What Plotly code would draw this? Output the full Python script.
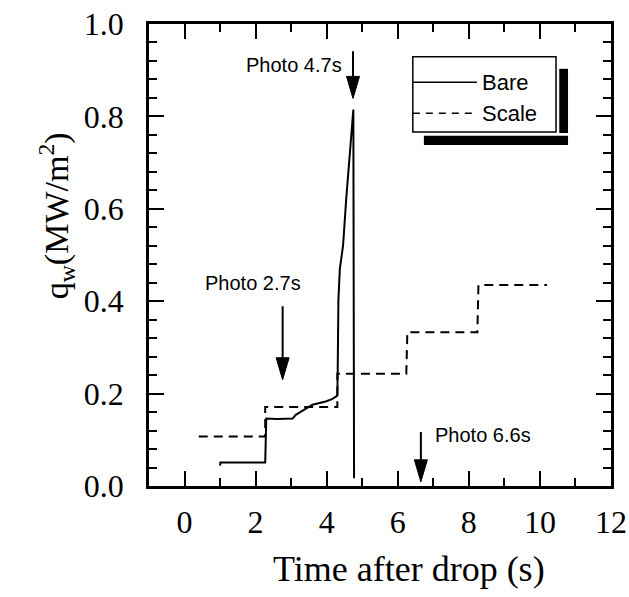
import plotly.graph_objects as go

# ---- data ----
bare_t = [1.00, 1.01, 2.27, 2.28, 2.30, 2.60, 3.04, 3.13, 3.35, 3.60, 3.97, 4.15, 4.27,
          4.30, 4.31, 4.33, 4.37, 4.46, 4.55, 4.67, 4.75, 4.77]
bare_q = [0.044, 0.051, 0.051, 0.140, 0.146, 0.145, 0.146, 0.154, 0.164, 0.176, 0.183, 0.188, 0.194,
          0.196, 0.250, 0.404, 0.470, 0.520, 0.622, 0.730, 0.815, 0.017]

scale_t = [0.40, 2.27, 2.27, 4.30, 4.30, 6.24, 6.27, 8.24, 8.27, 10.20]
scale_q = [0.107, 0.107, 0.171, 0.171, 0.243, 0.243, 0.333, 0.333, 0.435, 0.435]

series_names = ["Bare", "Scale"]

photo_labels = ["Photo 2.7s", "Photo 4.7s", "Photo 6.6s"]
photo_arrow_t = [2.76, 4.74, 6.65]
photo_arrow_top = [0.389, 0.941, 0.117]
photo_arrow_tip = [0.230, 0.839, 0.009]
photo_text_t = [1.94, 4.50, 6.99]
photo_text_q = [0.439, 0.911, 0.111]
photo_text_anchor = ["center", "right", "left"]

x_title = "Time after drop (s)"
y_title = "q<sub>w</sub>(MW/m<sup>2</sup>)"

X_RANGE = [-1, 12]
Y_RANGE = [0, 1.0]

SERIF = "Liberation Serif, Times New Roman, serif"
SANS = "Liberation Sans, Arial, sans-serif"

# figure geometry (the page body margin is removed in post_script)
W, H = 629, 597
ML, MR, MT, MB = 149, 18, 24, 111
plot_w = W - ML - MR
plot_h = H - MT - MB
px_x = (X_RANGE[1] - X_RANGE[0]) / plot_w   # data units per pixel
px_y = (Y_RANGE[1] - Y_RANGE[0]) / plot_h

fig = go.Figure()
fig.add_trace(go.Scatter(x=bare_t, y=bare_q, mode="lines", name=series_names[0],
                         line=dict(color="black", width=2), showlegend=False))
fig.add_trace(go.Scatter(x=scale_t, y=scale_q, mode="lines", name=series_names[1],
                         line=dict(color="black", width=2, dash="9px,6px"), showlegend=False))

annotations = []
shapes = []
head_len = 22 * px_y
head_half = 6.5 * px_x
for lab, at, atop, atip, tt, tq, anc in zip(photo_labels, photo_arrow_t, photo_arrow_top,
                                            photo_arrow_tip, photo_text_t, photo_text_q,
                                            photo_text_anchor):
    # arrow shaft
    shapes.append(dict(type="line", xref="x", yref="y", x0=at, x1=at, y0=atop, y1=atip + head_len,
                       line=dict(color="black", width=2)))
    # arrow head (narrow filled triangle)
    path = (f"M {at - head_half},{atip + head_len} L {at + head_half},{atip + head_len} "
            f"L {at},{atip} Z")
    shapes.append(dict(type="path", xref="x", yref="y", path=path,
                       fillcolor="black", line=dict(color="black", width=1)))
    annotations.append(dict(x=tt, y=tq, xref="x", yref="y", text=lab, showarrow=False,
                            xanchor=anc, yanchor="middle",
                            font=dict(family=SANS, size=20, color="black")))

# custom legend (box with offset shadow)
shapes += [
    dict(type="rect", xref="paper", yref="paper", x0=0.571, x1=0.881, y0=0.766, y1=0.929,
         line=dict(color="black", width=1.5), fillcolor="white"),
    dict(type="rect", xref="paper", yref="paper", x0=0.888, x1=0.907, y0=0.764, y1=0.903,
         line=dict(width=0), fillcolor="black"),
    dict(type="rect", xref="paper", yref="paper", x0=0.595, x1=0.907, y0=0.738, y1=0.758,
         line=dict(width=0), fillcolor="black"),
    dict(type="line", xref="paper", yref="paper", x0=0.571, x1=0.710, y0=0.874, y1=0.874,
         line=dict(color="black", width=1.5)),
    dict(type="line", xref="paper", yref="paper", x0=0.571, x1=0.710, y0=0.807, y1=0.807,
         line=dict(color="black", width=1.5, dash="7px,6px")),
]
for name, yy in zip(series_names, [0.874, 0.807]):
    annotations.append(dict(x=0.716, y=yy, xref="paper", yref="paper", text=name,
                            showarrow=False, xanchor="left", yanchor="middle",
                            font=dict(family=SANS, size=22, color="black")))

# axis titles (positioned as in the reference)
annotations.append(dict(x=0.562, y=-0.18, xref="paper", yref="paper", text=x_title,
                        showarrow=False, xanchor="center", yanchor="middle",
                        font=dict(family=SERIF, size=36, color="black")))
annotations.append(dict(x=-0.20, y=0.585, xref="paper", yref="paper", text=y_title,
                        showarrow=False, xanchor="center", yanchor="middle", textangle=-90,
                        font=dict(family=SERIF, size=34, color="black")))

axis_common = dict(showline=True, linecolor="black", linewidth=2.5, mirror="allticks",
                   ticks="inside", ticklen=15, tickwidth=2, tickcolor="black",
                   showgrid=False, zeroline=False, ticklabeloverflow="allow",
                   automargin=False,
                   tickfont=dict(family=SERIF, size=32, color="black"))

fig.update_layout(
    width=W, height=H,
    margin=dict(l=ML, r=MR, t=MT, b=MB),
    paper_bgcolor="white", plot_bgcolor="white",
    xaxis=dict(range=X_RANGE, tick0=0, dtick=2, ticklabelstandoff=6,
               minor=dict(dtick=1, ticks="inside", ticklen=8, tickwidth=2, tickcolor="black"),
               **axis_common),
    yaxis=dict(range=Y_RANGE, tick0=0, dtick=0.2, tickformat=".1f", ticklabelstandoff=16,
               minor=dict(dtick=0.04, ticks="inside", ticklen=8, tickwidth=2, tickcolor="black"),
               **axis_common),
    shapes=shapes,
    annotations=annotations,
)

fig.write_html("out.html", config={"displayModeBar": False},
               post_script="document.body.style.margin='0';document.body.style.overflow='hidden';")
